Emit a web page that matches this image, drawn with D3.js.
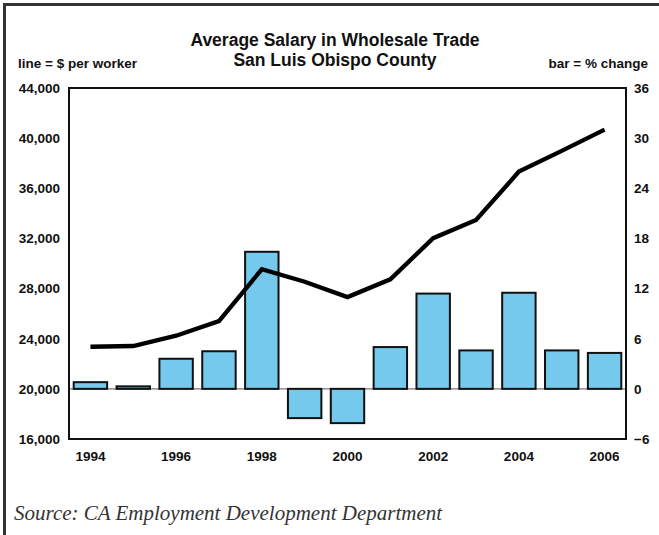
<!DOCTYPE html>
<html>
<head>
<meta charset="utf-8">
<script src="https://cdn.jsdelivr.net/npm/d3@7"></script>
<style>
  body { margin: 0; background: #fff; }
  svg text { font-family: "Liberation Sans", Arial, sans-serif; font-weight: bold; fill: #111; }
  .title { font-size: 17.5px; }
  .unit { font-size: 13.5px; }
  .axis text { font-size: 13.5px; }
  .source { font-family: "Liberation Serif", "Times New Roman", serif; font-style: italic; font-weight: normal; font-size: 21px; fill: #333; }
</style>
</head>
<body>
<div id="chart"></div>
<script>
// values
const years = [1994, 1995, 1996, 1997, 1998, 1999, 2000, 2001, 2002, 2003, 2004, 2005, 2006];
const salary = [23360, 23420, 24240, 25410, 29540, 28550, 27320, 28740, 32020, 33470, 37330, 38980, 40680];
const pctChange = [0.8, 0.3, 3.6, 4.5, 16.4, -3.5, -4.1, 5.0, 11.4, 4.6, 11.5, 4.6, 4.3];
const leftTicks = [16000, 20000, 24000, 28000, 32000, 36000, 40000, 44000];
const rightTicks = [-6, 0, 6, 12, 18, 24, 30, 36];
const yearLabels = [1994, 1996, 1998, 2000, 2002, 2004, 2006];

const width = 659, height = 535;
const margin = { top: 88, right: 33, bottom: 96, left: 69 };

const svg = d3.select('#chart').append('svg')
  .attr('width', width)
  .attr('height', height);

// outer frame (top and left edges only)
svg.append('path')
  .attr('d', `M4.5,${height} V4.5 H${width}`)
  .attr('fill', 'none')
  .attr('stroke', '#333')
  .attr('stroke-width', 3);

svg.append('text').attr('class', 'title')
  .attr('x', 335).attr('y', 46)
  .style('text-anchor', 'middle')
  .text('Average Salary in Wholesale Trade');

svg.append('text').attr('class', 'title')
  .attr('x', 335).attr('y', 66)
  .style('text-anchor', 'middle')
  .text('San Luis Obispo County');

svg.append('text').attr('class', 'unit')
  .attr('x', 18).attr('y', 68)
  .text('line = $ per worker');

svg.append('text').attr('class', 'unit')
  .attr('x', 648).attr('y', 68)
  .style('text-anchor', 'end')
  .text('bar = % change');

let x = d3.scaleBand()
  .domain(years)
  .range([margin.left, width - margin.right])
  .paddingInner(0.22)
  .paddingOuter(0.11);

let yLeft = d3.scaleLinear()
  .domain([16000, 44000])
  .range([height - margin.bottom, margin.top]);

let yRight = d3.scaleLinear()
  .domain([-6, 36])
  .range([height - margin.bottom, margin.top]);

// zero line for bars
svg.append('line')
  .attr('x1', margin.left).attr('x2', width - margin.right)
  .attr('y1', yRight(0)).attr('y2', yRight(0))
  .attr('stroke', '#777')
  .attr('stroke-width', 1.2);

svg.selectAll('rect.bar')
  .data(years)
  .enter()
  .append('rect')
  .attr('class', 'bar')
  .attr('x', d => x(d))
  .attr('width', x.bandwidth())
  .attr('y', (d, i) => yRight(Math.max(0, pctChange[i])))
  .attr('height', (d, i) => Math.abs(yRight(pctChange[i]) - yRight(0)))
  .style('fill', '#74c9ec')
  .style('stroke', '#111')
  .style('stroke-width', 2);

let line = d3.line()
  .x((d, i) => x(years[i]) + x.bandwidth() / 2)
  .y(d => yLeft(d));

svg.append('path')
  .datum(salary)
  .attr('d', line)
  .attr('fill', 'none')
  .attr('stroke', '#000')
  .attr('stroke-width', 4.3)
  .attr('stroke-linejoin', 'miter');

// plot frame
svg.append('rect')
  .attr('x', margin.left).attr('y', margin.top)
  .attr('width', width - margin.right - margin.left)
  .attr('height', height - margin.bottom - margin.top)
  .attr('fill', 'none')
  .attr('stroke', '#111')
  .attr('stroke-width', 2);

svg.append('g')
  .attr('class', 'axis')
  .attr('transform', `translate(${margin.left}, 0)`)
  .call(d3.axisLeft(yLeft).tickValues(leftTicks).tickSize(0).tickPadding(9).tickFormat(d3.format(',')))
  .call(g => g.select('.domain').remove());

svg.append('g')
  .attr('class', 'axis')
  .attr('transform', `translate(${width - margin.right}, 0)`)
  .call(d3.axisRight(yRight).tickValues(rightTicks).tickSize(0).tickPadding(8))
  .call(g => g.select('.domain').remove());

svg.append('g')
  .attr('class', 'axis')
  .attr('transform', `translate(0, ${height - margin.bottom})`)
  .call(d3.axisBottom(x).tickValues(yearLabels).tickSize(0).tickPadding(12))
  .call(g => g.select('.domain').remove());

svg.selectAll('.axis text').style('fill', '#111');

svg.append('text').attr('class', 'source')
  .attr('x', 14).attr('y', 520)
  .text('Source: CA Employment Development Department');
</script>
</body>
</html>
